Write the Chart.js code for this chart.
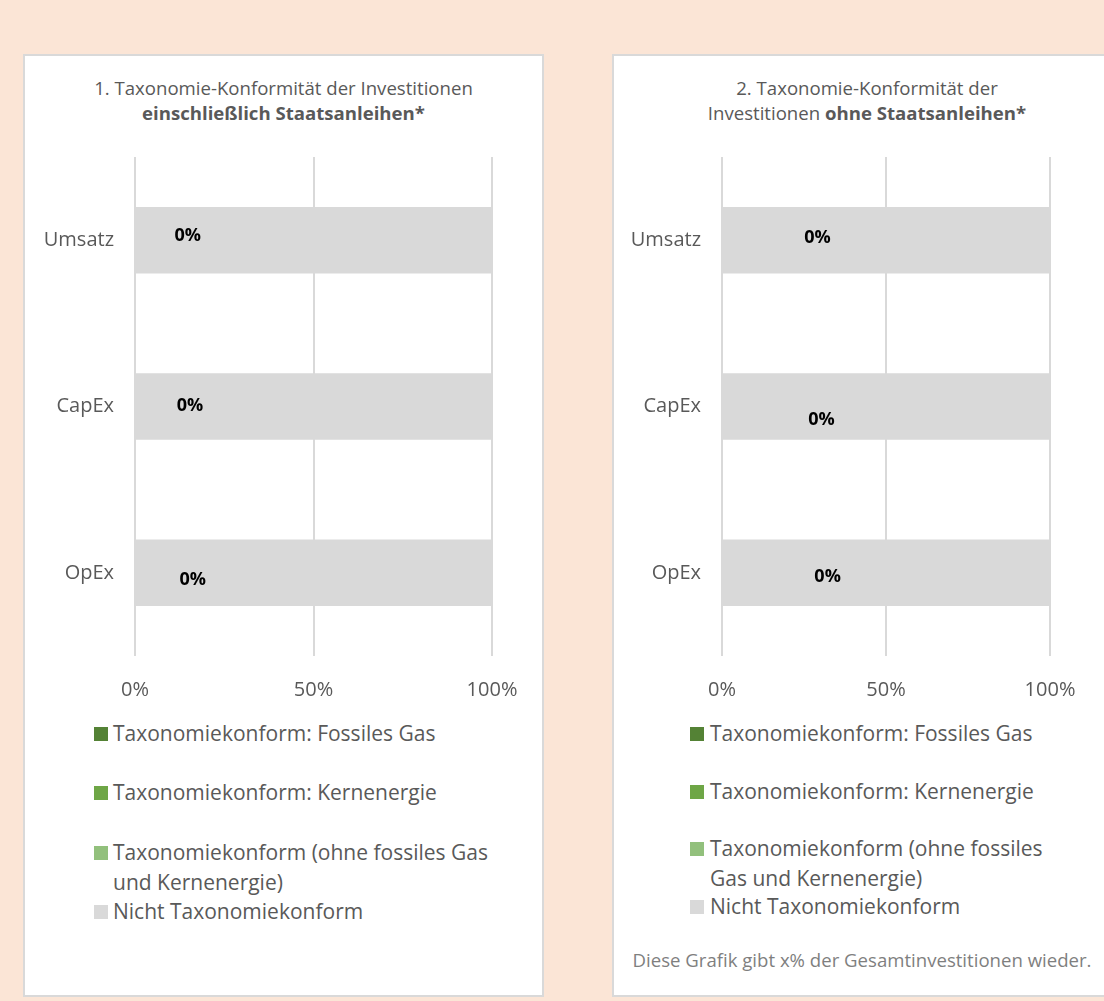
<!DOCTYPE html>
<html>
<head>
<meta charset="utf-8">
<script src="https://cdn.jsdelivr.net/npm/chart.js@4"></script>
<style>
  html, body { margin:0; padding:0; }
  body { width:1104px; height:1001px; overflow:hidden; position:relative; background:#fbe5d6; font-family:"Open Sans", sans-serif; color:#595959; }
  .panel { position:absolute; background:#fff; border:2px solid #d9d9d9; box-sizing:border-box; }
  .title { position:absolute; text-align:center; font-size:18.6px; line-height:25px; color:#595959; }
  .title b { font-weight:700; }
  .cw { position:absolute; }
  .leg { position:absolute; display:flex; align-items:flex-start; font-size:21px; line-height:30px; color:#595959; }
  .leg .box { flex:none; width:14px; height:14px; margin-top:9px; }
  .foot { position:absolute; text-align:center; font-size:18.6px; line-height:24px; color:#7f7f7f; }
</style>
</head>
<body>
<div class="panel" style="left:23px;top:54px;width:521px;height:943px"></div>
<div class="panel" style="left:612px;top:54px;width:510px;height:943px"></div>

<div class="title" style="left:23px;top:75px;width:521px">1. Taxonomie-Konformität der Investitionen<br><b>einschließlich Staatsanleihen*</b></div>
<div class="title" style="left:612px;top:75px;width:510px">2. Taxonomie-Konformität der<br>Investitionen <b>ohne Staatsanleihen*</b></div>

<div class="cw" style="left:25px;top:140px;width:517px;height:562px"><canvas id="c1" width="517" height="562"></canvas></div>
<div class="cw" style="left:614px;top:140px;width:490px;height:562px"><canvas id="c2" width="490" height="562"></canvas></div>

<div id="leg1"></div>
<div id="leg2"></div>
<div class="foot" style="left:602px;top:948px;width:520px">Diese Grafik gibt x% der Gesamtinvestitionen wieder.</div>

<script>
// ---- data ----
const categories = ['Umsatz', 'CapEx', 'OpEx'];
const seriesNames = [
  'Taxonomiekonform: Fossiles Gas',
  'Taxonomiekonform: Kernenergie',
  'Taxonomiekonform (ohne fossiles Gas und Kernenergie)',
  'Nicht Taxonomiekonform'
];
const xTickValues = [0, 50, 100];

// Chart 1: including sovereign bonds
const c1FossilGas = [0, 0, 0];
const c1Nuclear = [0, 0, 0];
const c1OtherAligned = [0, 0, 0];
const c1NotAligned = [100, 100, 100];

// Chart 2: excluding sovereign bonds
const c2FossilGas = [0, 0, 0];
const c2Nuclear = [0, 0, 0];
const c2OtherAligned = [0, 0, 0];
const c2NotAligned = [100, 100, 100];

// ---- styles ----
const seriesColors = ['#548235', '#6ea646', '#92c07c', '#d9d9d9'];
const textGrey = '#595959';
const fontFam = '"Open Sans", sans-serif';

function makeDatasets(arrs) {
  return arrs.map((d, i) => ({
    label: seriesNames[i],
    data: d,
    backgroundColor: seriesColors[i],
    borderWidth: 0,
    barPercentage: 0.8,
    categoryPercentage: 0.5
  }));
}

const dataLabelPlugin = {
  id: 'alignedLabels',
  afterDatasetsDraw(chart, args, opts) {
    const ctx = chart.ctx;
    const xs = chart.scales.x;
    const meta = chart.getDatasetMeta(3);
    const ds = chart.data.datasets;
    ctx.save();
    ctx.font = 'bold 18px ' + fontFam;
    ctx.fillStyle = '#000';
    ctx.textAlign = 'center';
    ctx.textBaseline = 'middle';
    categories.forEach((c, i) => {
      const aligned = ds[0].data[i] + ds[1].data[i] + ds[2].data[i];
      const bar = meta.data[i];
      const x = xs.getPixelForValue(opts.at[i]);
      ctx.fillText(aligned + '%', x, bar.y + opts.dy[i]);
    });
    ctx.restore();
  }
};

function makeChart(id, arrs, yWidth, padRight, labelPlace) {
  return new Chart(document.getElementById(id), {
    type: 'bar',
    data: { labels: categories, datasets: makeDatasets(arrs) },
    plugins: [dataLabelPlugin],
    options: {
      indexAxis: 'y',
      responsive: false,
      animation: false,
      layout: { padding: { top: 17, right: padRight, bottom: 0, left: 0 } },
      plugins: {
        legend: { display: false },
        tooltip: { enabled: false },
        alignedLabels: labelPlace
      },
      scales: {
        x: {
          stacked: true, min: 0, max: 100,
          afterBuildTicks: s => { s.ticks = xTickValues.map(v => ({ value: v })); },
          afterFit: s => { s.height = 46; s.paddingLeft = 0; s.paddingRight = 0; },
          grid: { color: '#d9d9d9', lineWidth: 2, drawTicks: false },
          border: { display: false },
          ticks: { padding: 22, color: textGrey, font: { family: fontFam, size: 20 }, callback: v => v + '%', maxRotation: 0 }
        },
        y: {
          stacked: true,
          afterFit: s => { s.width = yWidth; s.paddingTop = 0; s.paddingBottom = 0; },
          grid: { display: false, drawTicks: false },
          border: { display: false },
          ticks: { padding: 21, color: textGrey, font: { family: fontFam, size: 20 } }
        }
      }
    }
  });
}

const ch1 = makeChart('c1', [c1FossilGas, c1Nuclear, c1OtherAligned, c1NotAligned], 110, 50,
  { at: [14.8, 15.4, 16.2], dy: [-4, -1, 7.5] });
const ch2 = makeChart('c2', [c2FossilGas, c2Nuclear, c2OtherAligned, c2NotAligned], 108, 54,
  { at: [29.1, 30.3, 32.2], dy: [-2, 13, 4] });

function buildLegend(el, chart, left, firstCenter, slot, gap, maxW) {
  chart.data.datasets.forEach((ds, i) => {
    const item = document.createElement('div');
    item.className = 'leg';
    item.style.left = left + 'px';
    item.style.top = (firstCenter - 15 + i * slot) + 'px';
    const box = document.createElement('span');
    box.className = 'box';
    box.style.background = ds.backgroundColor;
    box.style.marginRight = gap + 'px';
    const txt = document.createElement('span');
    txt.textContent = ds.label;
    txt.style.maxWidth = maxW + 'px';
    item.appendChild(box);
    item.appendChild(txt);
    el.appendChild(item);
  });
}
buildLegend(document.getElementById('leg1'), ch1, 94, 733, 59.3, 5, 400);
buildLegend(document.getElementById('leg2'), ch2, 690, 733, 57.5, 6, 350);
</script>
</body>
</html>
